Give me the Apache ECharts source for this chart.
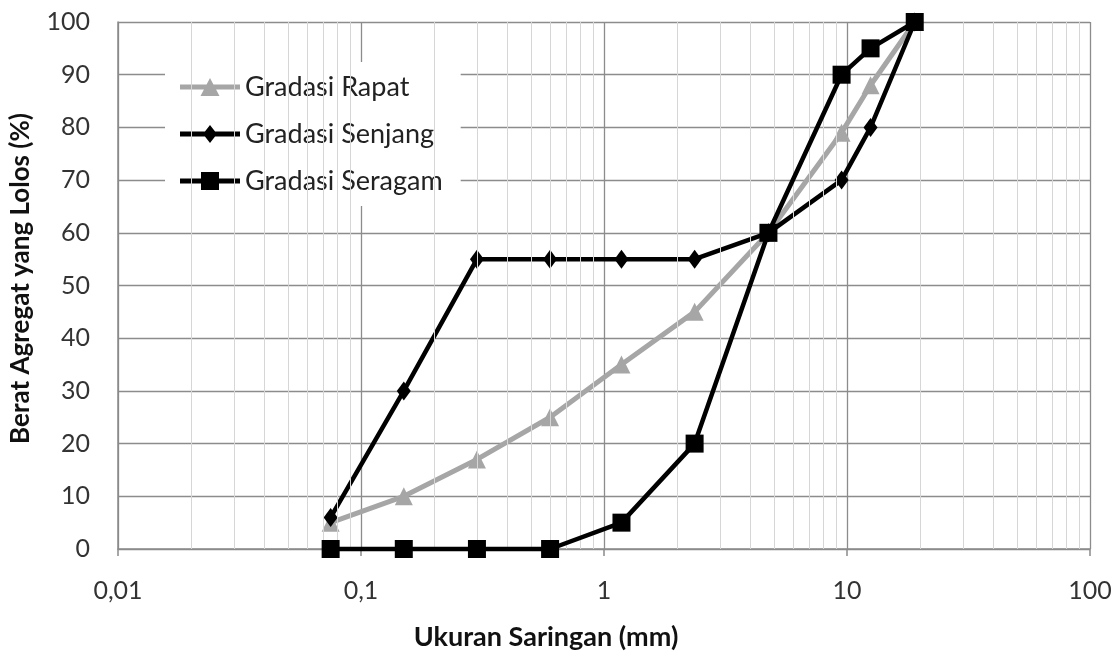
<!DOCTYPE html>
<html><head><meta charset="utf-8">
<script src="https://cdn.jsdelivr.net/npm/echarts@6/dist/echarts.min.js"></script>
<style>html,body{margin:0;padding:0;background:#fff}#c{width:1117px;height:659px}</style>
</head><body><div id="c"></div>
<script>
const sieveSizes = [0.075, 0.15, 0.3, 0.6, 1.18, 2.36, 4.75, 9.5, 12.5, 19];
const gradasiRapat = [5, 10, 17, 25, 35, 45, 60, 79, 88, 100];
const gradasiSenjang = [6, 30, 55, 55, 55, 55, 60, 70, 80, 100];
const gradasiSeragam = [0, 0, 0, 0, 5, 20, 60, 90, 95, 100];
const minorGridX = [0.02,0.03,0.04,0.05,0.06,0.07,0.08,0.09,0.2,0.3,0.4,0.5,0.6,0.7,0.8,0.9,2,3,4,5,6,7,8,9,20,30,40,50,60,70,80,90];
const seriesNames = ['Gradasi Rapat', 'Gradasi Senjang', 'Gradasi Seragam'];

const FONT = 'Lato';
const pair = (vals) => sieveSizes.map((x, i) => [x, vals[i]]);

// legend icons: line sample with marker (60 x 18 box)
const LINE = 'M0,6.5L60,6.5L60,11.5L0,11.5Z';
const legendIcons = [
  'path://' + LINE + 'M30,0L39.5,18L20.5,18Z',
  'path://' + LINE + 'M30,0L37,9L30,18L23,9Z',
  'path://' + LINE + 'M21,0L39,0L39,18L21,18Z'
];

const chart = echarts.init(document.getElementById('c'), null, {renderer: 'canvas'});
chart.setOption({
  animation: false,
  backgroundColor: '#fff',
  grid: {left: 115, right: 27, top: 22, bottom: 110, containLabel: false},
  xAxis: {
    type: 'log', logBase: 10, min: 0.01, max: 100,
    name: 'Ukuran Saringan (mm)', nameLocation: 'middle', nameGap: 75,
    nameTextStyle: {fontFamily: FONT, fontWeight: 'bold', fontSize: 27, color: '#111', padding: [0, 116, 0, 0]},
    axisLine: {show: true, onZero: false, lineStyle: {color: '#8a8a8a', width: 1.5}},
    axisTick: {show: true, length: 7, lineStyle: {color: '#8a8a8a', width: 1.5}},
    axisLabel: {fontFamily: FONT, fontSize: 25, color: '#333', margin: 29,
      formatter: v => String(v).replace('.', ',')},
    splitLine: {show: true, lineStyle: {color: '#8c8c8c', width: 1.3}}
  },
  yAxis: {
    type: 'value', min: 0, max: 100, interval: 10,
    name: 'Berat Agregat yang Lolos (%)', nameLocation: 'middle', nameGap: 84,
    nameTextStyle: {fontFamily: FONT, fontWeight: 'bold', fontSize: 26, color: '#111', padding: [0, 0, 0, 14]},
    axisLine: {show: true, lineStyle: {color: '#8a8a8a', width: 1.5}},
    axisTick: {show: false},
    axisLabel: {fontFamily: FONT, fontSize: 25, color: '#333', margin: 28},
    splitLine: {show: true, lineStyle: {color: '#8c8c8c', width: 1.3}}
  },
  legend: {
    left: 165, top: 62, orient: 'vertical',
    backgroundColor: '#fff', padding: [10, 18, 10, 15],
    itemWidth: 60, itemHeight: 18, itemGap: 17,
    textStyle: {fontFamily: FONT, fontSize: 27, color: '#222', lineHeight: 30},
    data: seriesNames.map((n, i) => ({name: n, icon: legendIcons[i]}))
  },
  series: [
    {
      name: 'minor', type: 'line', data: [], silent: true, z: 1,
      markLine: {silent: true, symbol: ['none', 'none'], label: {show: false},
        lineStyle: {color: '#d6d6d6', width: 1, type: 'solid'},
        data: minorGridX.map(v => ({xAxis: v}))}
    },
    {
      name: seriesNames[0], type: 'line', data: pair(gradasiRapat), clip: false, z: 3,
      symbol: 'triangle', symbolSize: 18,
      lineStyle: {color: '#a6a6a6', width: 5},
      itemStyle: {color: '#a6a6a6'}
    },
    {
      name: seriesNames[1], type: 'line', data: pair(gradasiSenjang), clip: false, z: 4,
      symbol: 'diamond', symbolSize: [14, 19],
      lineStyle: {color: '#000', width: 4.5},
      itemStyle: {color: '#000'}
    },
    {
      name: seriesNames[2], type: 'line', data: pair(gradasiSeragam), clip: false, z: 5,
      symbol: 'rect', symbolSize: 18,
      lineStyle: {color: '#000', width: 4.5},
      itemStyle: {color: '#000'}
    }
  ]
});
</script></body></html>
